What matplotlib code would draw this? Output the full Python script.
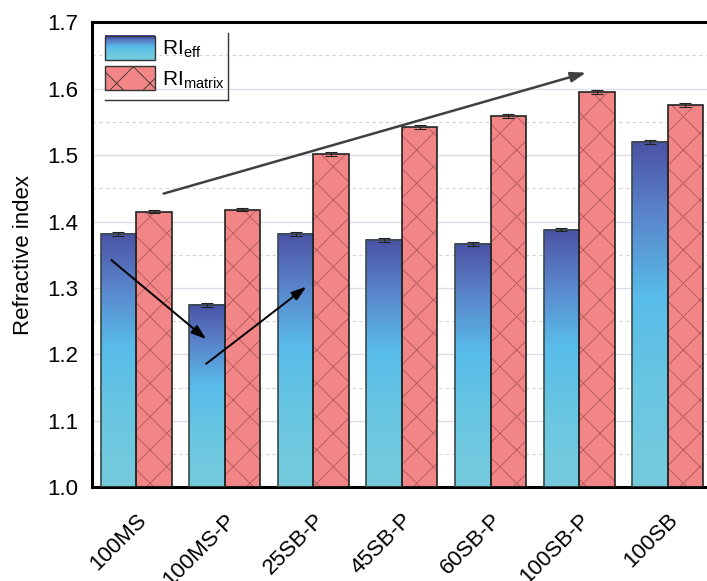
import numpy as np
import matplotlib
matplotlib.use("Agg")
import matplotlib.pyplot as plt
from matplotlib.colors import LinearSegmentedColormap
from matplotlib.legend_handler import HandlerBase
from matplotlib.patches import Rectangle, Patch
from matplotlib.lines import Line2D

plt.rcParams["font.family"] = ["Liberation Sans", "DejaVu Sans"]
plt.rcParams["mathtext.fontset"] = "custom"
plt.rcParams["mathtext.rm"] = "Liberation Sans"
plt.rcParams["hatch.linewidth"] = 0.6

# ==========================================================
# Data
# ==========================================================

samples = ["100MS", "100MS-P", "25SB-P", "45SB-P", "60SB-P", "100SB-P", "100SB"]

ri_eff = [1.381, 1.274, 1.381, 1.372, 1.366, 1.388, 1.519]
ri_eff_err = [0.003, 0.003, 0.003, 0.003, 0.003, 0.003, 0.003]

ri_matrix = [1.415, 1.418, 1.501, 1.542, 1.559, 1.595, 1.575]
ri_matrix_err = [0.002, 0.002, 0.003, 0.003, 0.003, 0.003, 0.003]

# trend arrows (start, end) in data units
trend_arrows = [
    ((-0.28, 1.342), (0.79, 1.223), "black"),
    ((0.79, 1.186), (1.92, 1.302), "black"),
    ((0.31, 1.442), (5.08, 1.624), "#404040"),
]

# ==========================================================
# Styles
# ==========================================================

eff_cmap = LinearSegmentedColormap.from_list(
    "ri_eff",
    [
        (0.0, "#76cbdd"),
        (0.3, "#68c6e1"),
        (0.55, "#58bcea"),
        (0.8, "#5a82c9"),
        (1.0, "#4a52a4"),
    ],
)
matrix_color = "#f28585"
hatch_color = "#b05a5e"
bar_width = 0.4
font_size = 16


class GradientHandler(HandlerBase):
    def create_artists(self, legend, orig_handle, xdescent, ydescent,
                       width, height, fontsize, trans):
        artists = []
        n = 24
        for i in range(n):
            r = Rectangle(
                (-xdescent, -ydescent + height * i / n),
                width, height / n + 0.3,
                facecolor=eff_cmap(i / (n - 1)),
                edgecolor="none",
                transform=trans,
            )
            artists.append(r)
        frame = Rectangle(
            (-xdescent, -ydescent), width, height,
            facecolor="none", edgecolor="#333333", linewidth=1.0,
            transform=trans,
        )
        artists.append(frame)
        return artists


fig = plt.figure(figsize=(7.07, 5.81), dpi=100)
ax = fig.add_axes([0.130, 0.161, 0.877, 0.801])

x = np.arange(len(samples))
x_eff = x - bar_width / 2
x_mat = x + bar_width / 2

ax.set_xlim(-0.5, len(samples) - 0.5)
ax.set_ylim(1.0, 1.7)

# grid
ax.set_yticks(np.arange(1.0, 1.71, 0.1))
ax.set_yticks(np.arange(1.05, 1.7, 0.1), minor=True)
ax.grid(axis="y", which="major", color="#dedcea", linewidth=1.0, zorder=0)
ax.grid(axis="y", which="minor", color="#d2d2d2", linewidth=0.8,
        linestyle=(0, (3, 3)), zorder=0)
ax.set_axisbelow(True)

# RI_eff bars with vertical gradient
gradient = np.linspace(0, 1, 256).reshape(-1, 1)
for xi, val in zip(x_eff, ri_eff):
    ax.imshow(
        gradient, cmap=eff_cmap, origin="lower", aspect="auto",
        extent=(xi - bar_width / 2, xi + bar_width / 2, 1.0, val),
        zorder=2, interpolation="bilinear",
    )
ax.bar(x_eff, np.array(ri_eff) - 1.0, bottom=1.0, width=bar_width,
       facecolor="none", edgecolor="#3a4a4a", linewidth=1.2, zorder=3)
ax.errorbar(x_eff, ri_eff, yerr=ri_eff_err, fmt="none", ecolor="#222222",
            elinewidth=0.8, capsize=4, capthick=0.8, zorder=4)

# RI_matrix bars, hatched
ax.bar(x_mat, np.array(ri_matrix) - 1.0, bottom=1.0, width=bar_width,
       facecolor=matrix_color, edgecolor="none", zorder=2)
ax.bar(x_mat, np.array(ri_matrix) - 1.0, bottom=1.0, width=bar_width,
       facecolor="none", edgecolor=hatch_color, hatch="x",
       linewidth=0, zorder=2.5)
ax.bar(x_mat, np.array(ri_matrix) - 1.0, bottom=1.0, width=bar_width,
       facecolor="none", edgecolor="#222222", linewidth=1.2, zorder=3)
ax.errorbar(x_mat, ri_matrix, yerr=ri_matrix_err, fmt="none", ecolor="#222222",
            elinewidth=0.8, capsize=4, capthick=0.8, zorder=4)

# trend arrows
for start, end, color in trend_arrows:
    ax.annotate(
        "", xy=end, xytext=start, zorder=5,
        arrowprops=dict(arrowstyle="-|>,head_length=0.9,head_width=0.3",
                        color=color, lw=1.4 if color == "black" else 1.8,
                        shrinkA=0, shrinkB=0),
    )

# axes styling
for side in ["left", "bottom", "top", "right"]:
    ax.spines[side].set_linewidth(2.2)
    ax.spines[side].set_color("black")
ax.tick_params(axis="both", which="both", length=0, labelsize=font_size)
ax.tick_params(axis="y", pad=10)
ax.tick_params(axis="x", pad=16)
ax.set_xticks(x)
ax.set_xticklabels(samples, rotation=45, ha="right", rotation_mode="anchor")
ax.set_yticklabels([f"{v:.1f}" for v in np.arange(1.0, 1.71, 0.1)])
ax.set_ylabel("Refractive index", fontsize=font_size, labelpad=9)

# legend
eff_handle = Patch(facecolor="#5bbde8", edgecolor="#333333")
mat_handle = Patch(facecolor=matrix_color, edgecolor="#333333", hatch="x")
leg = ax.legend(
    [eff_handle, mat_handle],
    [r"RI$_\mathregular{eff}$", r"RI$_\mathregular{matrix}$"],
    handler_map={eff_handle: GradientHandler()},
    loc="upper left", bbox_to_anchor=(0.0, 1.0),
    fontsize=15, frameon=False, handlelength=2.4, handleheight=1.4,
    handletextpad=0.3, labelspacing=0.3, borderaxespad=0.2, borderpad=0.45,
)
leg.set_zorder(6)
# shadow-style frame lines on right and bottom of the legend
ax.add_line(Line2D([0.021, 0.2195], [0.832, 0.832], transform=ax.transAxes,
                   color="#333333", lw=1.0, zorder=6))
ax.add_line(Line2D([0.2195, 0.2195], [0.832, 0.976], transform=ax.transAxes,
                   color="#333333", lw=1.0, zorder=6))

fig.savefig("out.png", dpi=100)
